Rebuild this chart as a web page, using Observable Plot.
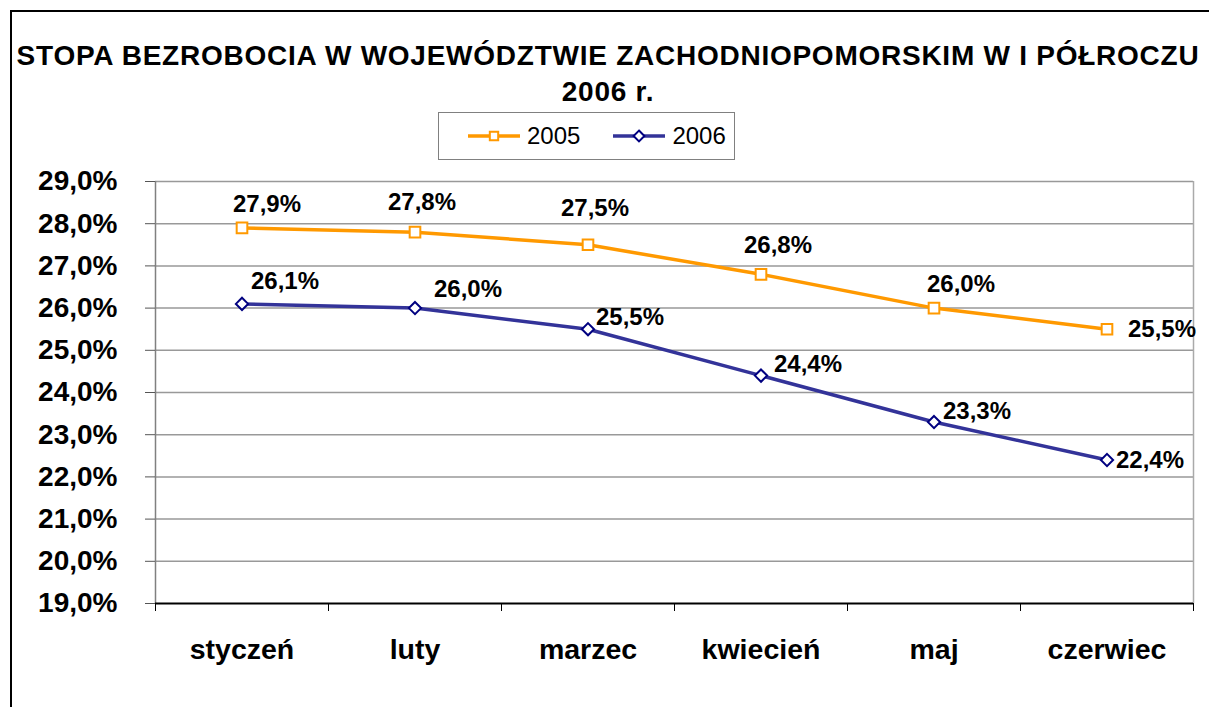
<!DOCTYPE html>
<html>
<head>
<meta charset="utf-8">
<script src="https://cdn.jsdelivr.net/npm/d3@7"></script>
<script src="https://cdn.jsdelivr.net/npm/@observablehq/plot@0.6"></script>
<style>
  html, body { margin: 0; padding: 0; background: #fff; }
  body { width: 1209px; height: 707px; overflow: hidden; position: relative; font-family: "Liberation Sans", Arial, sans-serif; }
  #frame { position: absolute; left: 10px; top: 10px; width: 1300px; height: 800px; border-left: 2px solid #000; border-top: 2px solid #000; }
  #title { position: absolute; left: 0; width: 1216px; top: 38px; text-align: center; font-weight: bold; font-size: 28px; line-height: 36px; color: #000; letter-spacing: 0.75px; }
  #legend { position: absolute; left: 438px; top: 112px; width: 297px; height: 48px; border: 1px solid #808080; box-sizing: border-box; display: flex; align-items: center; font-size: 24px; color: #000; }
  #legend .item { display: flex; align-items: center; }
  #legend svg { display: block; }
  #chart { position: absolute; left: 0; top: 0; }
</style>
</head>
<body>
<div id="frame"></div>
<div id="chart"></div>
<div id="title">STOPA BEZROBOCIA W WOJEWÓDZTWIE ZACHODNIOPOMORSKIM W I PÓŁROCZU<br>2006 r.</div>
<div id="legend"></div>
<script>
const months = ["styczeń", "luty", "marzec", "kwiecień", "maj", "czerwiec"];
const seriesNames = ["2005", "2006"];
const values2005 = [27.9, 27.8, 27.5, 26.8, 26.0, 25.5];
const values2006 = [26.1, 26.0, 25.5, 24.4, 23.3, 22.4];
const yTicks = [19, 20, 21, 22, 23, 24, 25, 26, 27, 28, 29];

// label placement offsets (pixels), as in the original chart
const labelDx2005 = [25, 7, 7, 17, 27, 55];
const labelDy2005 = [-24, -30, -36, -29, -24, 0];
const labelDx2006 = [43, 53, 42, 47, 43, 43];
const labelDy2006 = [-23, -19, -12, -11, -11, 0];

const color2005 = "#FF9900";
const color2006 = "#333399";
const marker2006 = "#000080";

const fmt = v => v.toFixed(1).replace(".", ",") + "%";

const data2005 = months.map((m, i) => ({i, month: m, value: values2005[i]}));
const data2006 = months.map((m, i) => ({i, month: m, value: values2006[i]}));

const font = "Liberation Sans, Arial, sans-serif";

const labelMarks = [];
data2005.forEach((d, k) => labelMarks.push(Plot.text([d], {
  x: d => d.i + 0.5, y: "value", text: d => fmt(d.value),
  dx: labelDx2005[k], dy: labelDy2005[k], fontSize: 24, fontWeight: "bold", fill: "#000"
})));
data2006.forEach((d, k) => labelMarks.push(Plot.text([d], {
  x: d => d.i + 0.5, y: "value", text: d => fmt(d.value),
  dx: labelDx2006[k], dy: labelDy2006[k], fontSize: 24, fontWeight: "bold", fill: "#000"
})));

const chart = Plot.plot({
  width: 1209,
  height: 707,
  marginTop: 181,
  marginBottom: 104,
  marginLeft: 155,
  marginRight: 16,
  style: {fontFamily: font, background: "transparent", overflow: "visible"},
  x: {type: "linear", domain: [0, 6]},
  y: {domain: [19, 29]},
  marks: [
    Plot.ruleY(yTicks.slice(1), {stroke: "#999", strokeWidth: 1.5}),
    Plot.ruleX([6], {stroke: "#aaa", strokeWidth: 1.5}),
    Plot.ruleX([0], {stroke: "#808080", strokeWidth: 1.5}),
    Plot.axisY({ticks: yTicks, tickSize: 10, tickPadding: 28, tickFormat: d => fmt(d),
      fontSize: 28, fontWeight: "bold", stroke: "#555", label: null}),
    Plot.axisX({ticks: [0, 1, 2, 3, 4, 5, 6], tickSize: 8, tickFormat: () => "", stroke: "#000", label: null}),
    Plot.axisX({ticks: [0.5, 1.5, 2.5, 3.5, 4.5, 5.5], tickSize: 0, tickPadding: 35,
      tickFormat: d => months[Math.round(d - 0.5)], fontSize: 28.5, fontWeight: "bold", label: null}),
    Plot.ruleY([19], {stroke: "#000", strokeWidth: 2}),
    Plot.line(data2005, {x: d => d.i + 0.5, y: "value", stroke: color2005, strokeWidth: 3.5}),
    Plot.line(data2006, {x: d => d.i + 0.5, y: "value", stroke: color2006, strokeWidth: 3.5}),
    Plot.dot(data2005, {x: d => d.i + 0.5, y: "value", symbol: "square", r: 6, stroke: color2005, strokeWidth: 2, fill: "#fff"}),
    Plot.dot(data2006, {x: d => d.i + 0.5, y: "value", symbol: "diamond2", r: 5.5, stroke: marker2006, strokeWidth: 2, fill: "#fff"}),
    ...labelMarks
  ]
});
document.getElementById("chart").appendChild(chart);
d3.select(chart).selectAll("g[aria-label='y-axis tick label'] text, g[aria-label='x-axis tick label'] text").attr("fill", "#000");

// legend
const legend = d3.select("#legend");
const items = [
  {name: seriesNames[0], stroke: color2005, mstroke: color2005, sym: "square"},
  {name: seriesNames[1], stroke: color2006, mstroke: marker2006, sym: "diamond"}
];
items.forEach((it, k) => {
  const div = legend.append("div").attr("class", "item").style("margin-left", k === 0 ? "29px" : "33px");
  const s = div.append("svg").attr("width", 52).attr("height", 20);
  s.append("line").attr("x1", 0).attr("x2", 52).attr("y1", 10).attr("y2", 10).attr("stroke", it.stroke).attr("stroke-width", 3.5);
  const sym = it.sym === "square" ? d3.symbol(d3.symbolSquare, 70) : d3.symbol(d3.symbolDiamond2, 75);
  s.append("path").attr("d", sym()).attr("transform", "translate(26,10)").attr("fill", "#fff").attr("stroke", it.mstroke).attr("stroke-width", 2);
  div.append("span").style("margin-left", "7px").text(it.name);
});
</script>
</body>
</html>
